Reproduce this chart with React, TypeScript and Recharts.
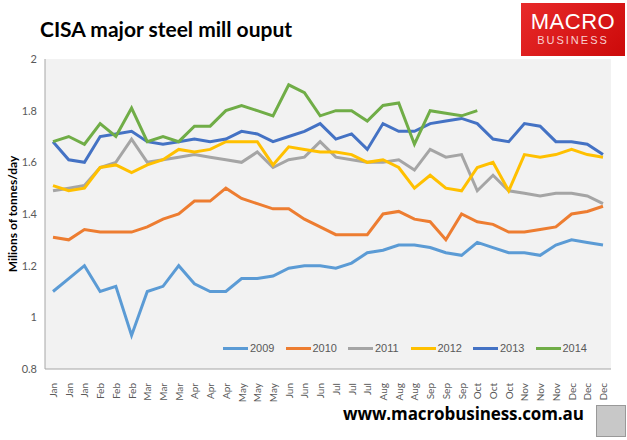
import { LineChart, Line, XAxis, YAxis } from 'recharts';

const months = ['Jan', 'Feb', 'Mar', 'Apr', 'May', 'Jun', 'Jul', 'Aug', 'Sep', 'Oct', 'Nov', 'Dec'];
// three readings per month (ten-day periods)
const periods = months.flatMap((m) => [m, m, m]);

const y2009 = [1.10, 1.15, 1.20, 1.10, 1.12, 0.93, 1.10, 1.12, 1.20, 1.13, 1.10, 1.10, 1.15, 1.15, 1.16, 1.19, 1.20, 1.20, 1.19, 1.21, 1.25, 1.26, 1.28, 1.28, 1.27, 1.25, 1.24, 1.29, 1.27, 1.25, 1.25, 1.24, 1.28, 1.30, 1.29, 1.28];
const y2010 = [1.31, 1.30, 1.34, 1.33, 1.33, 1.33, 1.35, 1.38, 1.40, 1.45, 1.45, 1.50, 1.46, 1.44, 1.42, 1.42, 1.38, 1.35, 1.32, 1.32, 1.32, 1.40, 1.41, 1.38, 1.37, 1.30, 1.40, 1.37, 1.36, 1.33, 1.33, 1.34, 1.35, 1.40, 1.41, 1.43];
const y2011 = [1.49, 1.50, 1.51, 1.58, 1.60, 1.69, 1.60, 1.61, 1.62, 1.63, 1.62, 1.61, 1.60, 1.64, 1.58, 1.61, 1.62, 1.68, 1.62, 1.61, 1.60, 1.60, 1.61, 1.57, 1.65, 1.62, 1.63, 1.49, 1.55, 1.49, 1.48, 1.47, 1.48, 1.48, 1.47, 1.44];
const y2012 = [1.51, 1.49, 1.50, 1.58, 1.59, 1.56, 1.59, 1.61, 1.65, 1.64, 1.65, 1.68, 1.68, 1.68, 1.59, 1.66, 1.65, 1.64, 1.64, 1.63, 1.60, 1.61, 1.58, 1.50, 1.55, 1.50, 1.49, 1.58, 1.60, 1.49, 1.63, 1.62, 1.63, 1.65, 1.63, 1.62];
const y2013 = [1.68, 1.61, 1.60, 1.70, 1.71, 1.72, 1.68, 1.67, 1.68, 1.69, 1.68, 1.69, 1.72, 1.71, 1.68, 1.70, 1.72, 1.75, 1.69, 1.71, 1.65, 1.75, 1.72, 1.72, 1.75, 1.76, 1.77, 1.75, 1.69, 1.68, 1.75, 1.74, 1.68, 1.68, 1.67, 1.63];
const y2014 = [1.68, 1.70, 1.67, 1.75, 1.70, 1.81, 1.68, 1.70, 1.68, 1.74, 1.74, 1.80, 1.82, 1.80, 1.78, 1.90, 1.87, 1.78, 1.80, 1.80, 1.76, 1.82, 1.83, 1.67, 1.80, 1.79, 1.78, 1.80];

const yTicks = [0.8, 1, 1.2, 1.4, 1.6, 1.8, 2];

const series = [
  { key: 'y2009', name: '2009', color: '#5B9BD5', values: y2009 },
  { key: 'y2010', name: '2010', color: '#ED7D31', values: y2010 },
  { key: 'y2011', name: '2011', color: '#A5A5A5', values: y2011 },
  { key: 'y2012', name: '2012', color: '#FFC000', values: y2012 },
  { key: 'y2013', name: '2013', color: '#4472C4', values: y2013 },
  { key: 'y2014', name: '2014', color: '#70AD47', values: y2014 },
];

const data = periods.map((p, i) => {
  const row: Record<string, number | string | undefined> = { idx: i, period: p };
  series.forEach((s) => {
    row[s.key] = s.values[i];
  });
  return row;
});

function MonthTick({ x, y, payload }: any) {
  return (
    <text
      x={x}
      y={y + 6}
      transform={`rotate(-90, ${x}, ${y + 6})`}
      textAnchor="end"
      dominantBaseline="central"
      fontSize={10}
      fill="#595959"
    >
      {periods[payload.value]}
    </text>
  );
}

export default function App() {
  return (
    <div
      style={{
        position: 'absolute',
        left: 0,
        top: 0,
        width: 627,
        height: 440,
        background: '#fff',
        fontFamily: 'Lato, "Open Sans", sans-serif',
      }}
    >
      <div
        style={{
          position: 'absolute',
          left: 40,
          top: 16,
          fontSize: 21,
          fontWeight: 700,
          color: '#000',
        }}
      >
        CISA major steel mill ouput
      </div>

      <div
        style={{
          position: 'absolute',
          left: 521,
          top: 3,
          width: 104,
          height: 53,
          background: 'linear-gradient(135deg, #e82a2a, #cc0a0a)',
          color: '#fff',
          textAlign: 'center',
          fontFamily: '"Liberation Sans", Arial, sans-serif',
        }}
      >
        <div style={{ fontSize: 22, marginTop: 8, lineHeight: '22px', letterSpacing: 0.5 }}>MACRO</div>
        <div style={{ fontSize: 11, lineHeight: '14px', letterSpacing: 2, color: '#f8d0d0' }}>BUSINESS</div>
      </div>

      <LineChart
        width={627}
        height={440}
        data={data}
        margin={{ top: 59, right: 16, bottom: 0, left: 0 }}
      >
        <rect x={45} y={59} width={566} height={310} fill="#f2f2f2" />
        <XAxis
          dataKey="idx"
          type="category"
          interval={0}
          height={71}
          padding={{ left: 8, right: 8 }}
          tick={<MonthTick />}
          tickLine={false}
          axisLine={{ stroke: '#a6a6a6' }}
        />
        <YAxis
          domain={[0.8, 2]}
          ticks={yTicks}
          width={45}
          tickLine={false}
          axisLine={{ stroke: '#a6a6a6' }}
          tickFormatter={(v: number) => String(Number(v.toFixed(1)))}
          tick={{ fill: '#595959', fontSize: 11 }}
        />
        {series.map((s) => (
          <Line
            key={s.key}
            dataKey={s.key}
            name={s.name}
            stroke={s.color}
            strokeWidth={3}
            dot={false}
            isAnimationActive={false}
          />
        ))}
      </LineChart>

      <div
        style={{
          position: 'absolute',
          left: 12,
          top: 214,
          transform: 'translate(-50%, -50%) rotate(-90deg)',
          whiteSpace: 'nowrap',
          fontSize: 12,
          fontWeight: 700,
          color: '#000',
        }}
      >
        Milions of tonnes/day
      </div>

      <div
        style={{
          position: 'absolute',
          left: 223,
          top: 342,
          display: 'flex',
          fontSize: 11,
          color: '#595959',
          fontFamily: '"Liberation Sans", Arial, sans-serif',
        }}
      >
        {series.map((s) => (
          <div key={s.key} style={{ display: 'flex', alignItems: 'center', width: 62.5 }}>
            <div style={{ width: 25, height: 3, background: s.color, marginRight: 2 }} />
            <span>{s.name}</span>
          </div>
        ))}
      </div>

      <div
        style={{
          position: 'absolute',
          left: 343,
          top: 402,
          fontSize: 17,
          fontWeight: 700,
          color: '#000',
          fontFamily: '"Open Sans", sans-serif',
          letterSpacing: -0.1,
        }}
      >
        www.macrobusiness.com.au
      </div>
      <div
        style={{
          position: 'absolute',
          left: 596,
          top: 405,
          width: 28,
          height: 30,
          background: '#c8c8c8',
          border: '1px solid #999',
        }}
      />
    </div>
  );
}
